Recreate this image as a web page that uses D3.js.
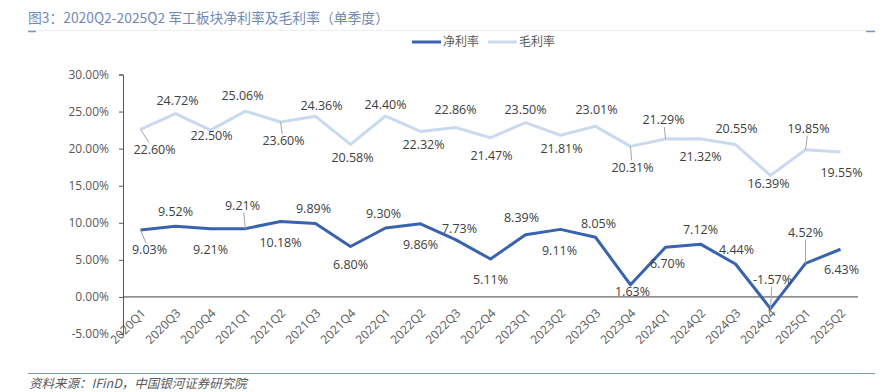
<!DOCTYPE html>
<html>
<head>
<meta charset="utf-8">
<script src="https://cdn.jsdelivr.net/npm/d3@7/dist/d3.min.js"></script>
<style>
  body { margin: 0; background: #fff; }
  svg { display: block; font-family: "Noto Sans CJK SC", "Noto Sans", sans-serif; }
</style>
</head>
<body>
<div id="chart"></div>
<script>
(function() {
    const quarters = ['2020Q1', '2020Q3', '2020Q4', '2021Q1', '2021Q2', '2021Q3', '2021Q4', '2022Q1', '2022Q2', '2022Q3', '2022Q4',
        '2023Q1', '2023Q2', '2023Q3', '2023Q4', '2024Q1', '2024Q2', '2024Q3', '2024Q4', '2025Q1', '2025Q2'];
    const netMargin = [9.03, 9.52, 9.21, 9.21, 10.18, 9.89, 6.80, 9.30, 9.86, 7.73, 5.11,
        8.39, 9.11, 8.05, 1.63, 6.70, 7.12, 4.44, -1.57, 4.52, 6.43];
    const grossMargin = [22.60, 24.72, 22.50, 25.06, 23.60, 24.36, 20.58, 24.40, 22.32, 22.86, 21.47,
        23.50, 21.81, 23.01, 20.31, 21.29, 21.32, 20.55, 16.39, 19.85, 19.55];
    const yTicks = [-5, 0, 5, 10, 15, 20, 25, 30];
    const seriesNames = ['净利率', '毛利率'];

    // label placement (offset from point, px) and leader line flag
    const grossLabelPos = [[14, 20, 1], [2, -13, 0], [1, 6, 0], [-3, -16, 0], [3, 19, 1], [6, -11, 0], [2, 13, 0],
        [0, -11, 0], [3, 13, 0], [0, -18, 0], [1, 18, 0], [0, -13, 0], [1, 13, 0], [1, -17, 0], [2, 21, 1],
        [-2, -19, 1], [0, 18, 0], [1, -16, 0], [-2, 8, 0], [3, -21, 1], [1, 21, 0]];
    const netLabelPos = [[9, 20, 1], [0, -15, 0], [0, 21, 0], [-3, -23, 1], [0, 21, 0], [-2, -15, 0], [0, 18, 0],
        [-2, -14, 0], [0, 21, 0], [4, -11, 0], [0, 21, 0], [-4, -17, 0], [-1, 21, 0], [3, -14, 0], [2, 7, 0],
        [2, 16, 0], [0, -15, 0], [1, -14, 0], [2, -29, 1], [0, -31, 1], [1, 20, 0]];

    const W = 890, H = 392;
    const netColor = '#3a63ad', grossColor = '#cbd9ef';
    const textColor = '#595959', labelColor = '#404040';

    const svg = d3.select('#chart').append('svg').attr('width', W).attr('height', H);

    // title
    svg.append('text').attr('x', 28).attr('y', 23).style('font-size', '13.8px').style('fill', '#7189b9')
        .text('图3：2020Q2-2025Q2 军工板块净利率及毛利率（单季度）');
    svg.append('line').attr('x1', 28).attr('x2', 875).attr('y1', 30.5).attr('y2', 30.5).attr('stroke', '#eeeeee');
    svg.append('line').attr('x1', 28).attr('x2', 36).attr('y1', 31.5).attr('y2', 31.5).attr('stroke', '#7a96c8').attr('stroke-width', 1.5);
    svg.append('line').attr('x1', 866).attr('x2', 875).attr('y1', 31.5).attr('y2', 31.5).attr('stroke', '#7a96c8').attr('stroke-width', 1.5);

    // legend
    const legend = svg.append('g').attr('transform', 'translate(412, 42)');
    [[0, netColor], [76, grossColor]].forEach(([dx, c], i) => {
        legend.append('line').attr('x1', dx).attr('x2', dx + 29).attr('y1', 0).attr('y2', 0)
            .attr('stroke', c).attr('stroke-width', 3);
        legend.append('text').attr('x', dx + 31).attr('y', 0).attr('dy', '0.35em')
            .style('font-size', '12px').style('fill', textColor).text(seriesNames[i]);
    });

    // scales
    const x = d3.scaleBand().domain(quarters).range([123, 858]);
    const cx = q => x(q) + x.bandwidth() / 2;
    const y = d3.scaleLinear().domain([-5, 30]).range([334, 74.5]);

    // y axis
    const yAxis = svg.append('g').attr('transform', 'translate(123,0)')
        .call(d3.axisLeft(y).tickValues(yTicks).tickSize(4).tickPadding(10).tickFormat(d => d.toFixed(2) + '%'));
    yAxis.select('.domain').attr('stroke', '#595959');
    yAxis.selectAll('.tick line').attr('stroke', '#595959');
    yAxis.selectAll('.tick text').style('font-size', '12px').style('fill', textColor)
        .style('font-family', '"Open Sans", "Noto Sans", sans-serif');

    // zero line + category labels
    svg.append('line').attr('x1', 123).attr('x2', 858).attr('y1', y(0)).attr('y2', y(0))
        .attr('stroke', '#404040').attr('stroke-width', 1);
    svg.append('g').selectAll('text').data(quarters).enter().append('text')
        .attr('transform', d => `translate(${cx(d) + 3}, ${y(0) + 14}) rotate(-45)`)
        .attr('text-anchor', 'end').attr('dy', '0.35em')
        .style('font-size', '12px').style('fill', textColor)
        .style('font-family', '"Open Sans", "Noto Sans", sans-serif')
        .text(d => d);

    // lines
    const line = d3.line().x((d, i) => cx(quarters[i])).y(d => y(d));
    svg.append('path').datum(grossMargin).attr('d', line).attr('fill', 'none')
        .attr('stroke', grossColor).attr('stroke-width', 3).attr('stroke-linejoin', 'round');
    svg.append('path').datum(netMargin).attr('d', line).attr('fill', 'none')
        .attr('stroke', netColor).attr('stroke-width', 3).attr('stroke-linejoin', 'round');

    // data labels
    function drawLabels(values, pos) {
        const g = svg.append('g');
        values.forEach((v, i) => {
            const px = cx(quarters[i]), py = y(v);
            const [dx, dy, leader] = pos[i];
            if (leader) {
                const ey = dy > 0 ? py + dy - 7 : py + dy + 7;
                g.append('line').attr('x1', px).attr('y1', py).attr('x2', px + dx * 0.6).attr('y2', ey)
                    .attr('stroke', '#a6a6a6').attr('stroke-width', 1);
            }
            g.append('text').attr('x', px + dx).attr('y', py + dy).attr('dy', '0.35em')
                .attr('text-anchor', 'middle').style('font-size', '12.5px').style('fill', labelColor)
                .style('font-family', '"Open Sans", "Noto Sans", sans-serif')
                .text(v.toFixed(2) + '%');
        });
    }
    drawLabels(grossMargin, grossLabelPos);
    drawLabels(netMargin, netLabelPos);

    // footer
    svg.append('line').attr('x1', 28).attr('x2', 875).attr('y1', 373.5).attr('y2', 373.5).attr('stroke', '#7a96c8');
    svg.append('text').attr('x', 29).attr('y', 388).style('font-size', '12.5px').style('font-style', 'italic')
        .style('fill', textColor).text('资料来源：IFinD，中国银河证券研究院');
})();
</script>
</body>
</html>
